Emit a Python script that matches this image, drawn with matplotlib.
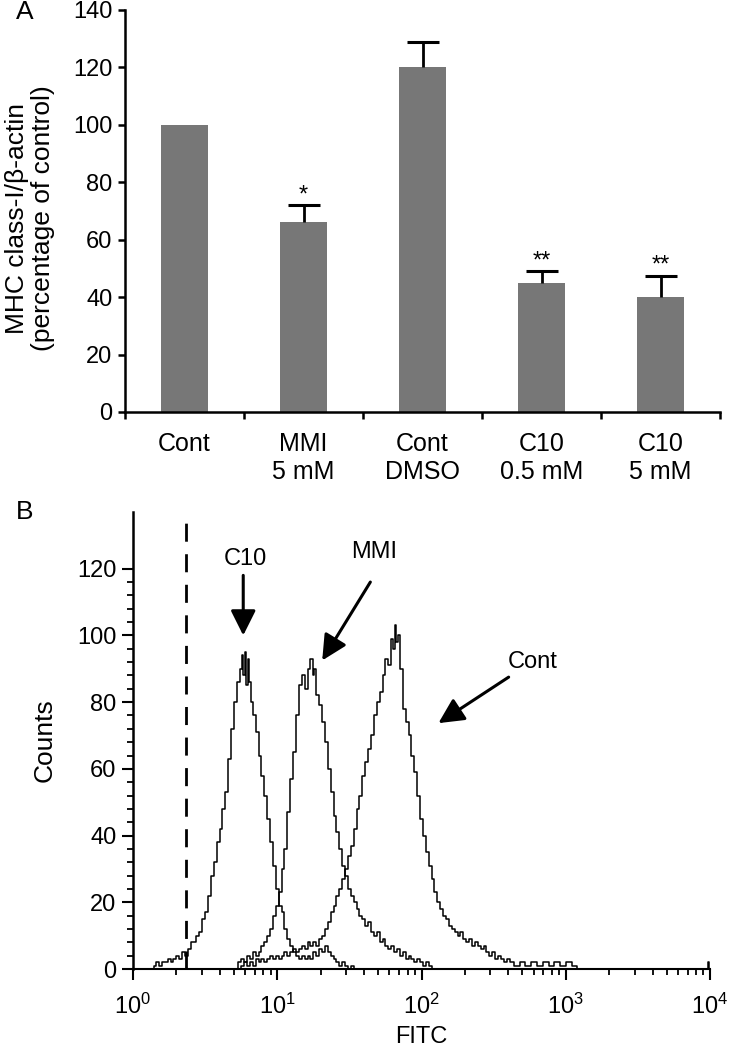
import numpy as np
import matplotlib
matplotlib.use('Agg')
import matplotlib.pyplot as plt
from matplotlib.ticker import FixedLocator, LogLocator, NullFormatter

plt.rcParams['font.family'] = ['Liberation Sans', 'DejaVu Sans']
plt.rcParams['mathtext.fontset'] = 'custom'
plt.rcParams['mathtext.rm'] = 'Liberation Sans'
plt.rcParams['mathtext.it'] = 'Liberation Sans'
plt.rcParams['font.size'] = 17

# --- panel A: MHC class-I / beta-actin
categorias = ['Cont', 'MMI\n5 mM', 'Cont\nDMSO', 'C10\n0.5 mM', 'C10\n5 mM']
valores = [100, 66, 120, 45, 40]
errores = [0, 6, 9, 4, 7.5]
signif = ['', '*', '', '**', '**']

# --- panel B: histogramas de citometria (log10 FITC, cuentas)
c10_log = [0.14, 0.15, 0.17, 0.19, 0.21, 0.23, 0.25, 0.27, 0.29, 0.31, 0.33, 0.35,
           0.37, 0.39, 0.41, 0.43, 0.45, 0.47, 0.49, 0.51, 0.53, 0.55, 0.57, 0.59,
           0.61, 0.63, 0.65, 0.67, 0.69, 0.71, 0.73, 0.75, 0.76, 0.77, 0.78, 0.79,
           0.80, 0.81, 0.82, 0.84, 0.86, 0.88, 0.90, 0.92, 0.94, 0.96, 0.98, 1.00,
           1.02, 1.04, 1.06, 1.08, 1.10, 1.12, 1.14, 1.16, 1.18, 1.20, 1.22, 1.24,
           1.26, 1.28, 1.30, 1.32, 1.34, 1.36, 1.38, 1.40, 1.42, 1.44, 1.46, 1.48,
           1.50, 1.52, 1.55]
c10_cuentas = [0, 1, 2, 1, 2, 2, 3, 2, 3, 4, 3, 5,
               4, 6, 8, 8, 10, 11, 15, 17, 22, 28, 32, 38,
               42, 48, 53, 63, 72, 80, 86, 90, 94, 88, 95, 85,
               93, 86, 80, 76, 71, 64, 58, 52, 45, 38, 31, 24,
               19, 17, 12, 9, 7, 5, 4, 3, 4, 3, 4, 3,
               5, 4, 6, 5, 7, 5, 4, 3, 2, 1, 2, 1,
               0, 1, 0]

mmi_log = [0.72, 0.74, 0.76, 0.78, 0.80, 0.82, 0.84, 0.86, 0.88, 0.90, 0.92, 0.94,
           0.96, 0.98, 1.00, 1.02, 1.04, 1.06, 1.08, 1.10, 1.12, 1.14, 1.16, 1.18,
           1.20, 1.22, 1.24, 1.25, 1.26, 1.28, 1.30, 1.32, 1.34, 1.36, 1.38, 1.40,
           1.42, 1.44, 1.46, 1.48, 1.50, 1.52, 1.54, 1.56, 1.58, 1.60, 1.62, 1.64,
           1.66, 1.68, 1.70, 1.72, 1.74, 1.76, 1.78, 1.80, 1.82, 1.84, 1.86, 1.88,
           1.90, 1.92, 1.94, 1.96, 1.98, 2.00, 2.02, 2.04, 2.06, 2.08]
mmi_cuentas = [0, 2, 3, 2, 4, 3, 5, 4, 5, 7, 8, 10,
               12, 16, 19, 23, 30, 36, 47, 57, 65, 76, 85, 88,
               84, 90, 93, 88, 90, 82, 79, 74, 68, 60, 53, 46,
               41, 36, 31, 28, 24, 22, 20, 18, 16, 15, 13, 14,
               11, 10, 11, 8, 9, 7, 6, 7, 5, 6, 4, 5,
               3, 4, 3, 2, 3, 2, 1, 2, 1, 0]

cont_log = [0.0, 0.005, 0.74, 0.76, 0.78, 0.80, 0.82, 0.84, 0.86, 0.88, 0.90, 0.92,
            0.94, 0.96, 0.98, 1.00, 1.02, 1.04, 1.06, 1.08, 1.10, 1.12, 1.14, 1.16,
            1.18, 1.20, 1.22, 1.24, 1.26, 1.28, 1.30, 1.32, 1.34, 1.36, 1.38, 1.40,
            1.42, 1.44, 1.46, 1.48, 1.50, 1.52, 1.54, 1.56, 1.58, 1.60, 1.62, 1.64,
            1.66, 1.68, 1.70, 1.72, 1.74, 1.76, 1.78, 1.80, 1.81, 1.82, 1.83, 1.84,
            1.86, 1.88, 1.90, 1.92, 1.94, 1.96, 1.98, 2.00, 2.02, 2.04, 2.06, 2.08,
            2.10, 2.12, 2.14, 2.16, 2.18, 2.20, 2.22, 2.24, 2.26, 2.28, 2.30, 2.32,
            2.34, 2.36, 2.38, 2.40, 2.42, 2.44, 2.46, 2.48, 2.50, 2.52, 2.54, 2.56,
            2.58, 2.60, 2.62, 2.66, 2.70, 2.74, 2.78, 2.82, 2.86, 2.90, 2.94, 2.98,
            3.02, 3.06, 3.10, 3.50, 3.98, 3.99, 4.0]
cont_cuentas = [67, 0, 0, 1, 2, 1, 2, 1, 3, 2, 3, 2,
                3, 4, 3, 4, 3, 4, 5, 4, 5, 6, 5, 6,
                7, 6, 8, 7, 8, 7, 9, 10, 12, 14, 17, 19,
                22, 24, 27, 30, 34, 37, 42, 48, 52, 58, 62, 66,
                70, 76, 80, 83, 88, 93, 91, 99, 96, 103, 98, 100,
                90, 78, 74, 70, 64, 59, 52, 45, 40, 35, 31, 27,
                23, 20, 18, 16, 15, 13, 12, 11, 10, 11, 9, 8,
                9, 7, 8, 7, 6, 7, 5, 4, 5, 3, 4, 3,
                2, 3, 2, 1, 2, 1, 2, 1, 2, 1, 2, 1,
                2, 1, 0, 0, 0, 2, 0]

umbral = 2.33

fig = plt.figure(figsize=(7.29, 10.5), dpi=100)

# ---------------- A
axA = fig.add_axes([125 / 729, 1 - 412 / 1050, 595 / 729, 402 / 1050])
x = np.arange(len(categorias))
axA.bar(x, valores, width=0.4, color='#777777')
con_err = np.array(errores) > 0
_, caps, _ = axA.errorbar(x[con_err], np.array(valores)[con_err],
                          yerr=[np.zeros(con_err.sum()), np.array(errores)[con_err]],
                          fmt='none', ecolor='black', elinewidth=2, capsize=11.5,
                          capthick=2.2)
caps[0].set_visible(False)  # solo la tapa superior
for i in range(len(categorias)):
    if signif[i]:
        axA.text(x[i], valores[i] + errores[i] + 3.5, signif[i], ha='center',
                 va='center', fontsize=17)

axA.set_xlim(-0.5, 4.5)
axA.set_ylim(0, 140)
axA.set_yticks(np.arange(0, 141, 20))
axA.set_xticks(np.arange(-0.5, 4.6, 1))
axA.set_xticklabels([])
for i, cat in enumerate(categorias):
    axA.text(x[i], -7, cat, ha='center', va='top', fontsize=18, linespacing=1.2)
for s in ['top', 'right']:
    axA.spines[s].set_visible(False)
for s in ['left', 'bottom']:
    axA.spines[s].set_linewidth(1.8)
axA.tick_params(direction='out', length=5, width=1.8, pad=4, labelsize=17)
fig.text(30 / 729, 1 - 218 / 1050, 'MHC class-I/β-actin\n(percentage of control)',
         rotation=90, ha='center', va='center', fontsize=19, linespacing=1.08)

# ---------------- B
axB = fig.add_axes([133 / 729, 1 - 969 / 1050, 577 / 729, 457 / 1050])
for lg, ct in [(c10_log, c10_cuentas), (mmi_log, mmi_cuentas), (cont_log, cont_cuentas)]:
    axB.plot(10 ** np.array(lg), ct, color='black', lw=1.1, drawstyle='steps-mid')
axB.axvline(umbral, color='black', lw=2, ls=(0, (6.5, 4.5)), ymax=0.985)

axB.set_xscale('log')
axB.set_xlim(1, 1e4)
axB.set_ylim(0, 137)
axB.set_yticks(np.arange(0, 121, 20))
axB.yaxis.set_minor_locator(FixedLocator([v for v in range(0, 121, 4) if v % 20]))
axB.xaxis.set_major_locator(LogLocator(base=10, numticks=10))
axB.xaxis.set_minor_locator(LogLocator(base=10, subs=np.arange(2, 10), numticks=20))
axB.xaxis.set_minor_formatter(NullFormatter())
for s in ['top', 'right']:
    axB.spines[s].set_visible(False)
axB.spines['left'].set_linewidth(1.8)
axB.spines['bottom'].set_linewidth(1.5)
axB.tick_params(which='major', direction='out', length=8, width=1.5, pad=4, labelsize=17)
axB.tick_params(axis='x', which='major', pad=10)
axB.tick_params(which='minor', direction='out', length=4, width=1.3)
fig.text(45 / 729, 1 - 740 / 1050, 'Counts', rotation=90, ha='center', va='center',
         fontsize=19)
fig.text(421 / 729, 1 - 1037 / 1050, 'FITC', ha='center', va='center', fontsize=17)

flecha = dict(arrowstyle='-|>,head_length=0.9,head_width=0.45', color='black', lw=2.2,
              shrinkA=0, shrinkB=0)
axB.text(6.0, 123, 'C10', ha='center', va='center', fontsize=17)
axB.annotate('', xy=(5.81, 100), xytext=(5.81, 118), arrowprops=flecha)
axB.text(47.2, 125, 'MMI', ha='center', va='center', fontsize=17)
axB.annotate('', xy=(20.5, 92.5), xytext=(44.2, 116), arrowprops=flecha)
axB.text(590, 92, 'Cont', ha='center', va='center', fontsize=17)
axB.annotate('', xy=(131, 73.7), xytext=(402, 87.5), arrowprops=flecha)

fig.text(25 / 729, 1 - 12 / 1050, 'A', ha='center', va='center', fontsize=19)
fig.text(25 / 729, 1 - 512 / 1050, 'B', ha='center', va='center', fontsize=19)

fig.savefig('out.png', dpi=100)
